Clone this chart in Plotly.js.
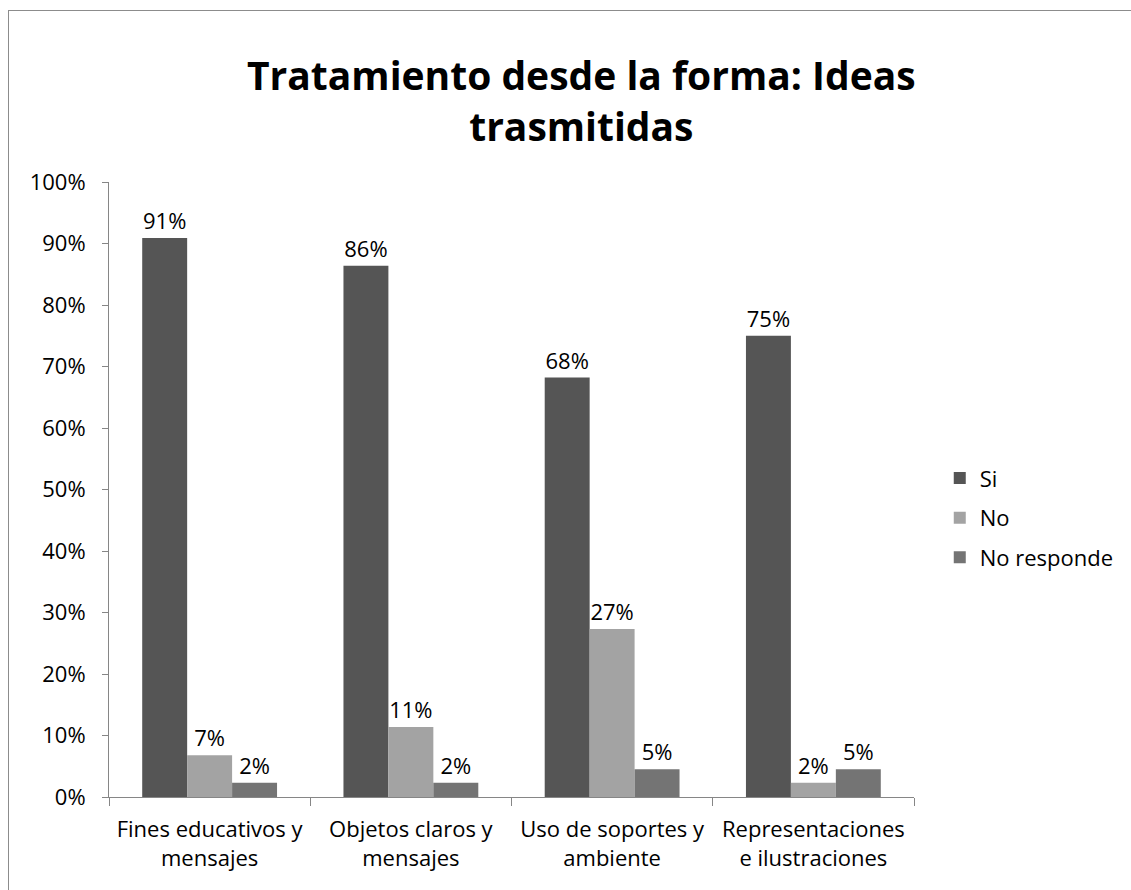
<!DOCTYPE html>
<html>
<head>
<meta charset="utf-8">
<script src="https://cdn.plot.ly/plotly-3.0.1.min.js"></script>
<style>
html,body{margin:0;padding:0;background:#fff;overflow:hidden;}
#frame{position:absolute;left:8px;top:10px;width:1200px;height:1000px;border-top:1px solid #8c8c8c;border-left:1px solid #8c8c8c;pointer-events:none;z-index:5;}
#chart{width:1131px;height:890px;}
</style>
</head>
<body>
<div id="frame"></div>
<div id="chart"></div>
<script>
const categories = [
  "Fines educativos y<br>mensajes",
  "Objetos claros y<br>mensajes",
  "Uso de soportes y<br>ambiente",
  "Representaciones<br>e ilustraciones"
];
const seriesNames = ["Si", "No", "No responde"];
const siValues = [90.9, 86.4, 68.2, 75.0];
const noValues = [6.8, 11.4, 27.3, 2.3];
const noRespondeValues = [2.3, 2.3, 4.5, 4.5];
const colors = ["#555555", "#a3a3a3", "#747474"];

const font = "'Open Sans', Lato, sans-serif";
const allValues = [siValues, noValues, noRespondeValues];

const traces = allValues.map((vals, i) => ({
  type: "bar",
  name: seriesNames[i],
  x: categories,
  y: vals,
  marker: {color: colors[i]},
  text: vals.map(v => Math.round(v) + "%"),
  textposition: "outside",
  textfont: {family: font, size: 22, color: "#000"},
  cliponaxis: false,
  legendgroup: "g" + i,
  hoverinfo: "none"
}));

const layout = {
  width: 1131,
  height: 890,
  margin: {l: 109, r: 214, t: 182, b: 93},
  paper_bgcolor: "#fff",
  plot_bgcolor: "#fff",
  font: {family: font, size: 22, color: "#000"},
  title: {
    text: "<b>Tratamiento desde la forma: Ideas<br>trasmitidas</b>",
    font: {family: font, size: 39, color: "#000"},
    x: 0.514, xanchor: "center",
    y: 1 - 90/890, yanchor: "middle", yref: "container"
  },
  barmode: "group",
  bargap: 0.33,
  bargroupgap: 0,
  showlegend: true,
  legend: {
    x: 1.032, xanchor: "left", y: 0.454, yanchor: "middle",
    font: {family: font, size: 22, color: "#000"},
    traceorder: "grouped",
    tracegroupgap: 8,
    itemwidth: 30
  },
  xaxis: {
    type: "category",
    showline: true, linecolor: "#868686", linewidth: 1,
    ticks: "outside", tickson: "boundaries", ticklen: 8, tickcolor: "#868686",
    showgrid: false, zeroline: false,
    ticklabelstandoff: 13,
    tickfont: {family: font, size: 22, color: "#000"}
  },
  yaxis: {
    range: [0, 100],
    dtick: 10,
    ticksuffix: "%",
    showline: true, linecolor: "#868686", linewidth: 1,
    ticks: "outside", ticklen: 6, tickcolor: "#868686",
    showgrid: false, zeroline: false,
    ticklabelstandoff: 12,
    tickfont: {family: font, size: 22, color: "#000"}
  }
};

Plotly.newPlot("chart", traces, layout, {staticPlot: true, displayModeBar: false});
</script>
</body>
</html>
